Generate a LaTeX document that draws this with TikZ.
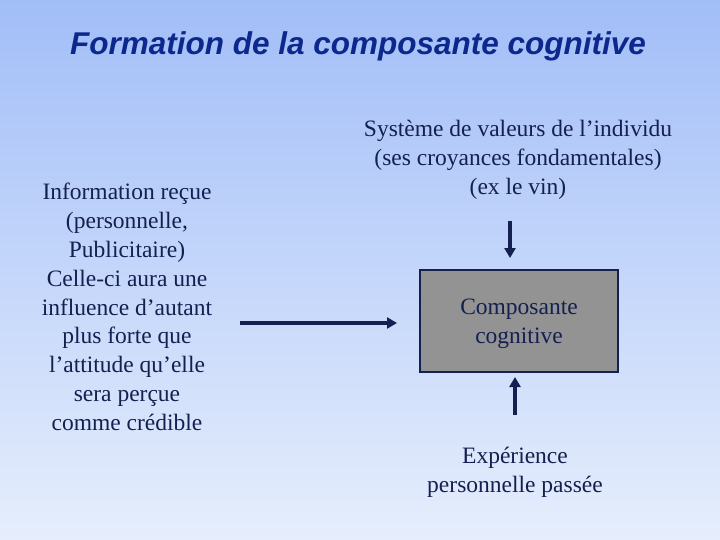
\documentclass[tikz,border=0pt]{standalone}
\usepackage{fontspec}
\setmainfont{Liberation Serif}
\newfontfamily\titlefont{Liberation Sans}
\usetikzlibrary{arrows.meta}
\definecolor{bgtop}{RGB}{162,190,248}
\definecolor{bgbot}{RGB}{230,238,252}
\definecolor{titleblue}{RGB}{12,40,140}
\definecolor{navy}{RGB}{20,32,80}
\definecolor{boxgray}{RGB}{147,147,147}
\begin{document}
\begin{tikzpicture}[x=1pt,y=-1pt,
  txt/.style={font=\fontsize{23.5}{28.8}\selectfont, text=navy, align=center, inner sep=0pt},
  arr/.style={draw=navy, line width=3.5pt, -{Triangle[length=10pt,width=11pt]}}]
\shade[top color=bgtop, bottom color=bgbot] (0,0) rectangle (720,540);
\useasboundingbox (0,0) rectangle (720,540);
\node[font=\titlefont\bfseries\itshape\fontsize{31.5}{36}\selectfont, text=titleblue, inner sep=0pt] (title) at (358,46) {Formation de la composante cognitive};
\node[txt] (info) at (127,307) {Information reçue\\(personnelle,\\Publicitaire)\\Celle-ci aura une\\influence d’autant\\plus forte que\\l’attitude qu’elle\\sera perçue\\comme crédible};
\node[txt] (sys) at (518,160) {Système de valeurs de l’individu\\(ses croyances fondamentales)\\(ex le vin)};
\node[draw=navy, line width=1.5pt, fill=boxgray, minimum width=198pt, minimum height=102pt, inner sep=0pt] (box) at (519,321) {};
\node[txt] (boxt) at (519,324) {Composante\\cognitive};
\node[txt] (exp) at (515,472) {Expérience\\personnelle passée};
\coordinate (la) at (240,323);
\coordinate (lb) at (397,323);
\coordinate (ta) at (510,221);
\coordinate (tb) at (510,258);
\coordinate (ba) at (515,415);
\coordinate (bb) at (515,377);
\draw[arr] (la) -- (lb);
\draw[arr] (ta) -- (tb);
\draw[arr] (ba) -- (bb);
\end{tikzpicture}
\end{document}
